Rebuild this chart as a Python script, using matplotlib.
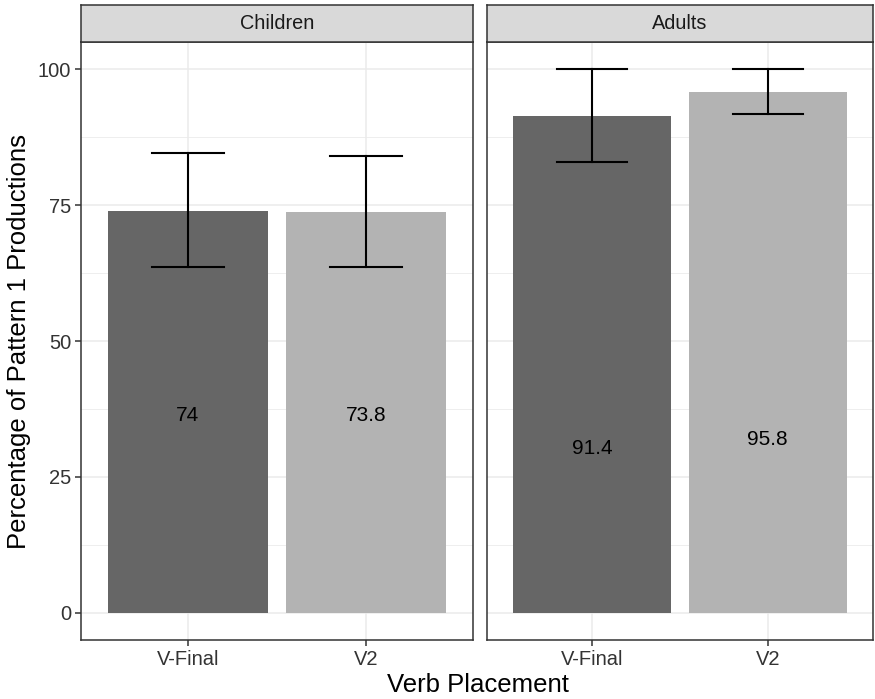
import numpy as np
import matplotlib
matplotlib.use("Agg")
import matplotlib.pyplot as plt

plt.rcParams['font.family'] = ['Liberation Sans', 'DejaVu Sans']

# donnees
groupes = ["Children", "Adults"]
categories = ["V-Final", "V2"]
valeurs = {"Children": [74.0, 73.8], "Adults": [91.4, 95.8]}
err_bas = {"Children": [63.7, 63.7], "Adults": [82.9, 91.7]}
err_haut = {"Children": [84.5, 84.0], "Adults": [100.0, 100.0]}
etiquettes = {"Children": ["74", "73.8"], "Adults": ["91.4", "95.8"]}
y_etiquettes = {"Children": [36.3, 36.3], "Adults": [30.2, 31.9]}
couleurs = ["#666666", "#B3B3B3"]

fig = plt.figure(figsize=(8.75, 6.99), dpi=100)

# positions des panneaux (fractions de la figure)
panneaux = [(0.0926, 0.4480), (0.5566, 0.4411)]
bas, haut = 0.0844, 0.9399
haut_strip = 0.9928

x = np.arange(1, len(categories) + 1)
for i, g in enumerate(groupes):
    gauche, largeur = panneaux[i]
    ax = fig.add_axes([gauche, bas, largeur, haut - bas])

    ax.bar(x, valeurs[g], width=0.9, color=couleurs, zorder=2)
    for j in range(len(categories)):
        ax.plot([x[j], x[j]], [err_bas[g][j], err_haut[g][j]], color="black", lw=1.5, zorder=3)
        ax.plot([x[j] - 0.2, x[j] + 0.2], [err_bas[g][j]] * 2, color="black", lw=1.5, zorder=3)
        ax.plot([x[j] - 0.2, x[j] + 0.2], [err_haut[g][j]] * 2, color="black", lw=1.5, zorder=3)
        ax.text(x[j], y_etiquettes[g][j], etiquettes[g][j], ha="center", va="center",
                fontsize=15, color="black", zorder=4)

    ax.set_xlim(0.4, 2.6)
    ax.set_ylim(-5, 105)
    ax.set_xticks(x)
    ax.set_xticklabels(categories)
    ax.set_yticks([0, 25, 50, 75, 100])
    ax.set_yticks([12.5, 37.5, 62.5, 87.5], minor=True)
    ax.grid(which="major", color="#EBEBEB", lw=1.1, zorder=0)
    ax.grid(which="minor", axis="y", color="#EBEBEB", lw=0.6, zorder=0)
    ax.set_axisbelow(True)
    ax.tick_params(axis="both", which="major", labelsize=14.5, labelcolor="#333333",
                   color="#333333", length=4, width=1.1, pad=3)
    ax.tick_params(axis="y", which="minor", length=0)
    for s in ax.spines.values():
        s.set_color("#333333")
        s.set_linewidth(1.1)
    if i > 0:
        ax.tick_params(axis="y", which="major", length=0, labelleft=False)
    else:
        ax.set_ylabel("Percentage of Pattern 1 Productions", fontsize=18.5, labelpad=5)

    # bandeau du facet
    sax = fig.add_axes([gauche, haut, largeur, haut_strip - haut])
    sax.set_facecolor("#D9D9D9")
    sax.set_xticks([])
    sax.set_yticks([])
    for s in sax.spines.values():
        s.set_color("#333333")
        s.set_linewidth(1.1)
    sax.text(0.5, 0.5, g, ha="center", va="center", fontsize=14.3, color="#1A1A1A",
             transform=sax.transAxes)

fig.text(0.546, 0.003, "Verb Placement", ha="center", va="bottom", fontsize=18.5)

fig.savefig("out.png", dpi=100)
